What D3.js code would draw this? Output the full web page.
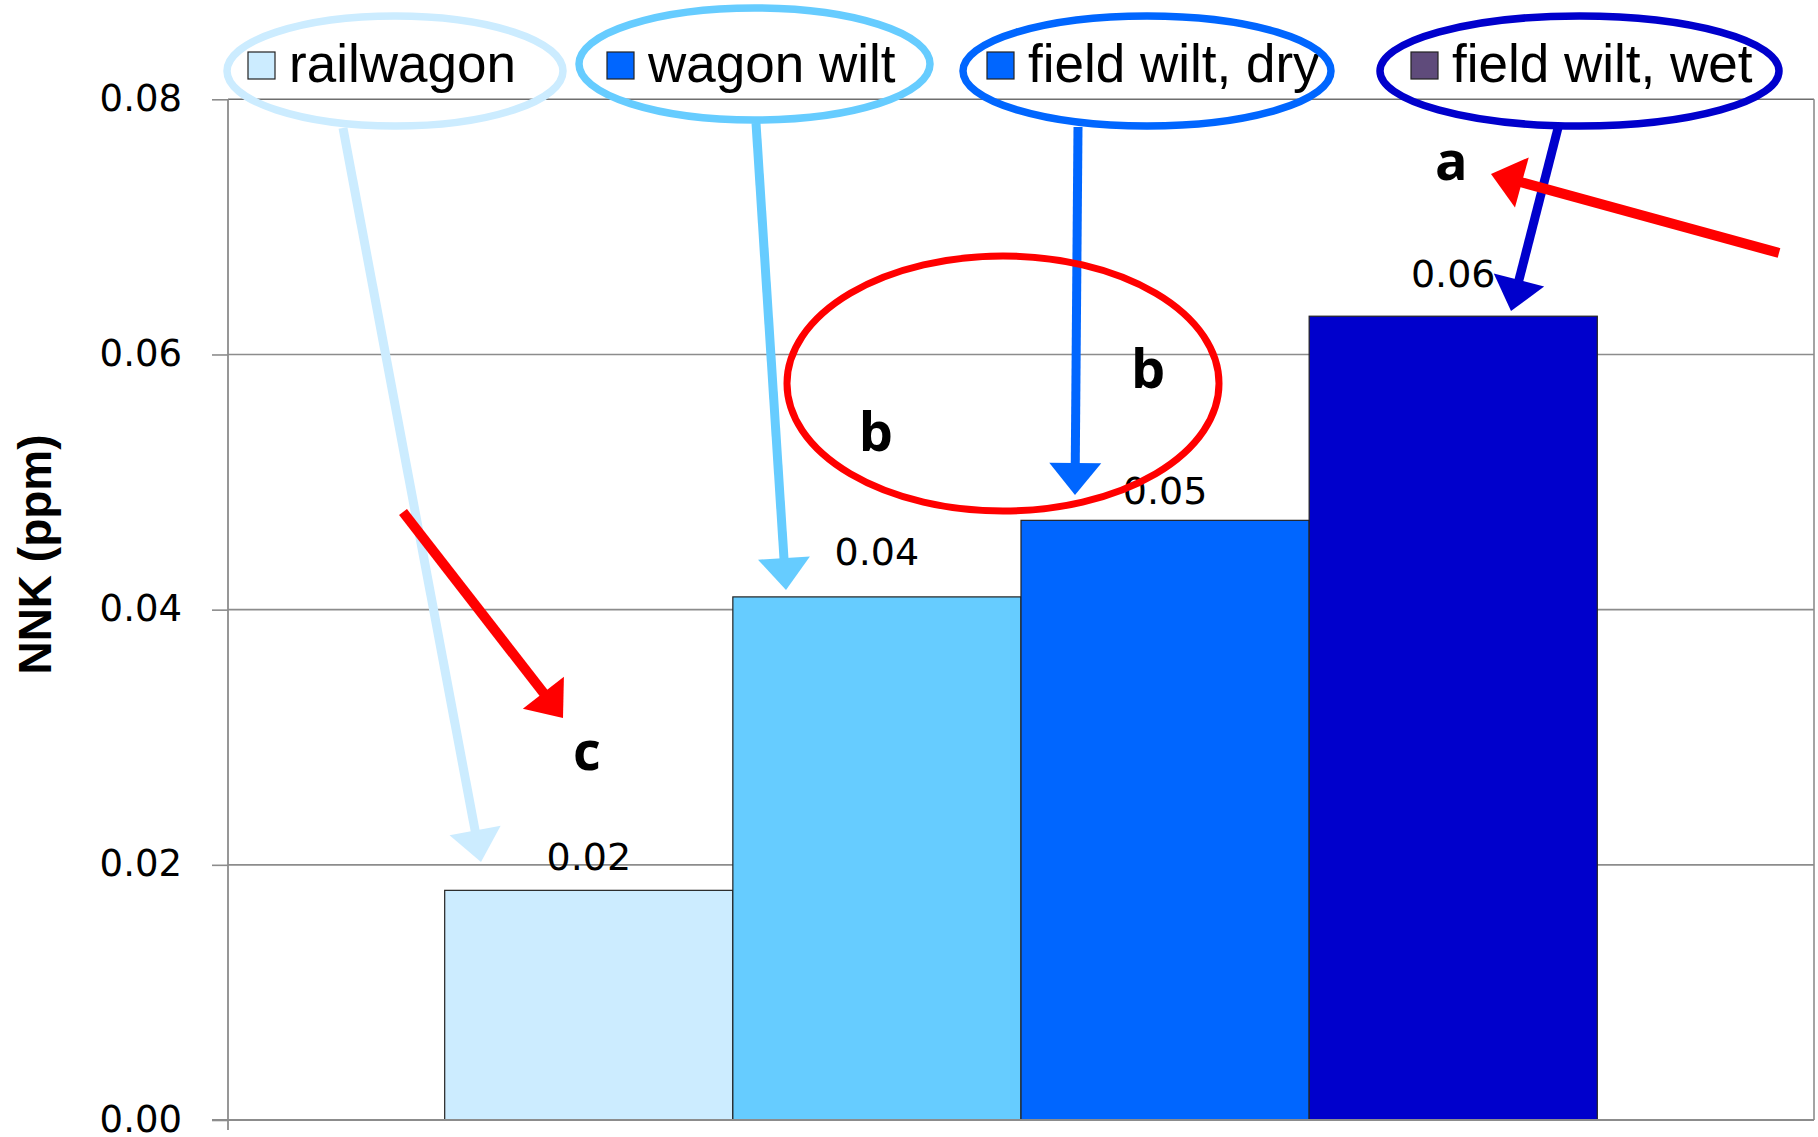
<!DOCTYPE html>
<html>
<head>
<meta charset="utf-8">
<script src="https://cdn.jsdelivr.net/npm/d3@7/dist/d3.min.js"></script>
<style>
  html, body { margin: 0; padding: 0; background: #fff; }
  svg { display: block; }
</style>
</head>
<body>
<script>
// NNK content by drying method
const categories = ["railwagon", "wagon wilt", "field wilt, dry", "field wilt, wet"];
const values = [0.018, 0.041, 0.047, 0.063];
const barColors = ["#CCECFF", "#66CCFF", "#0066FF", "#0000CC"];
const legendSwatchColors = ["#CCECFF", "#0066FF", "#0066FF", "#5F4B7B"];
const legendRingColors = ["#CCECFF", "#66CCFF", "#0066FF", "#0000CC"];
const groupLetters = ["c", "b", "b", "a"];
const yTicks = [0, 0.02, 0.04, 0.06, 0.08];
const yTitle = "NNK (ppm)";

const W = 1818, H = 1137;
const plot = { left: 228, right: 1814, top: 99.3, bottom: 1120 };

const svg = d3.select("body").append("svg")
  .attr("width", W).attr("height", H)
  .attr("viewBox", `0 0 ${W} ${H}`);

const y = d3.scaleLinear().domain([0, 0.08]).range([plot.bottom, plot.top]);
const group = d3.scaleBand().domain(["all"]).range([plot.left, plot.right])
  .paddingInner(0).paddingOuter(0.188);
const x = d3.scaleBand().domain(categories)
  .range([group("all"), group("all") + group.bandwidth()]).padding(0);
const fmt = d3.format(".2f");

// gridlines
svg.append("g").selectAll("line")
  .data(yTicks.filter(d => d > 0))
  .join("line")
  .attr("x1", plot.left).attr("x2", plot.right)
  .attr("y1", d => y(d)).attr("y2", d => y(d))
  .attr("stroke", d => d === 0.08 ? "#6e6e6e" : "#8c8c8c")
  .attr("stroke-width", 1.6);

// right frame edge
svg.append("line")
  .attr("x1", plot.right).attr("x2", plot.right)
  .attr("y1", plot.top).attr("y2", plot.bottom)
  .attr("stroke", "#8c8c8c").attr("stroke-width", 1.6);

// bars
svg.append("g").selectAll("rect")
  .data(categories)
  .join("rect")
  .attr("x", d => x(d))
  .attr("width", x.bandwidth())
  .attr("y", (d, i) => y(values[i]))
  .attr("height", (d, i) => y(0) - y(values[i]))
  .attr("fill", (d, i) => barColors[i])
  .attr("stroke", "#222")
  .attr("stroke-width", 1.2);

// y axis
const yAxis = svg.append("g")
  .attr("transform", `translate(${plot.left},0)`)
  .call(d3.axisLeft(y).tickValues(yTicks).tickFormat(fmt).tickSize(16).tickPadding(30));
yAxis.select(".domain").remove();
yAxis.selectAll(".tick line").attr("stroke", "#8c8c8c").attr("stroke-width", 1.6);
yAxis.selectAll(".tick text")
  .attr("font-family", "'DejaVu Sans', Verdana, sans-serif")
  .attr("font-size", 37)
  .attr("dy", "0.3em")
  .attr("fill", "#000");
svg.append("line")
  .attr("x1", plot.left).attr("x2", plot.left)
  .attr("y1", plot.top).attr("y2", plot.bottom + 10)
  .attr("stroke", "#8c8c8c").attr("stroke-width", 1.8);

// x axis baseline
svg.append("line")
  .attr("x1", plot.left - 16).attr("x2", plot.right)
  .attr("y1", plot.bottom).attr("y2", plot.bottom)
  .attr("stroke", "#8c8c8c").attr("stroke-width", 1.8);

// y axis title
svg.append("text")
  .attr("transform", `translate(51,${(431 + 678) / 2}) rotate(-90)`)
  .attr("text-anchor", "middle")
  .attr("font-family", "'Liberation Sans', Arial, sans-serif")
  .attr("font-weight", "bold")
  .attr("font-size", 46)
  .text(yTitle);

// value labels, each lifted a little above its bar
const labelGap = [20, 32, 16, 29];
svg.append("g").selectAll("text")
  .data(categories)
  .join("text")
  .attr("x", d => x(d) + x.bandwidth() / 2)
  .attr("y", (d, i) => y(values[i]) - labelGap[i])
  .attr("text-anchor", "middle")
  .attr("font-family", "'DejaVu Sans', Verdana, sans-serif")
  .attr("font-size", 38)
  .attr("fill", "#000")
  .text((d, i) => fmt(values[i]));

// legend
const legendSwatchX = [248, 607, 987, 1411];
const legend = svg.append("g");
categories.forEach((c, i) => {
  legend.append("rect")
    .attr("x", legendSwatchX[i]).attr("y", 52)
    .attr("width", 27).attr("height", 27)
    .attr("fill", legendSwatchColors[i])
    .attr("stroke", "#222").attr("stroke-width", 1.2);
  legend.append("text")
    .attr("x", legendSwatchX[i] + 41).attr("y", 82)
    .attr("font-family", "'Liberation Sans', Arial, sans-serif")
    .attr("font-size", 53)
    .attr("fill", "#000")
    .text(c);
});

// significance letters
const letterOffsets = [
  { dx: -2, v: 0.0274 }, { dx: -1, v: 0.0524 },
  { dx: -17, v: 0.0574 }, { dx: -2, v: 0.0737 }
];
svg.append("g").selectAll("text")
  .data(groupLetters)
  .join("text")
  .attr("x", (d, i) => x(categories[i]) + x.bandwidth() / 2 + letterOffsets[i].dx)
  .attr("y", (d, i) => y(letterOffsets[i].v))
  .attr("text-anchor", "middle")
  .attr("font-family", "'Open Sans', sans-serif")
  .attr("font-weight", "bold")
  .attr("font-size", 54)
  .attr("fill", "#000")
  .text(d => d);

// callout rings around the legend entries
const rings = [
  { cx: 395, cy: 71, rx: 168, ry: 55 },
  { cx: 754.5, cy: 64, rx: 175.5, ry: 56 },
  { cx: 1147, cy: 71, rx: 184, ry: 55 },
  { cx: 1579.5, cy: 71, rx: 199.5, ry: 55 }
];
const notes = svg.append("g");
rings.forEach((r, i) => {
  notes.append("ellipse")
    .attr("cx", r.cx).attr("cy", r.cy).attr("rx", r.rx).attr("ry", r.ry)
    .attr("fill", "none").attr("stroke", legendRingColors[i]).attr("stroke-width", 7.5);
});

// arrow helper: shaft plus triangular head
function arrow(x0, y0, x1, y1, color, width, headLen = 32, headW = 52) {
  const dx = x1 - x0, dy = y1 - y0, len = Math.hypot(dx, dy);
  const ux = dx / len, uy = dy / len;
  const bx = x1 - ux * headLen, by = y1 - uy * headLen;
  notes.append("line")
    .attr("x1", x0).attr("y1", y0).attr("x2", bx + ux * 2).attr("y2", by + uy * 2)
    .attr("stroke", color).attr("stroke-width", width);
  notes.append("path")
    .attr("d", d3.line()([
      [x1, y1],
      [bx - uy * headW / 2, by + ux * headW / 2],
      [bx + uy * headW / 2, by - ux * headW / 2]
    ]) + "Z")
    .attr("fill", color);
}

// legend entry -> bar arrows
arrow(343, 128, 481, 862, legendRingColors[0], 9);
arrow(756, 123, 786, 590, legendRingColors[1], 9);
arrow(1078, 127, 1075, 495, legendRingColors[2], 9);
arrow(1558, 128, 1511, 311, legendRingColors[3], 9);

// red highlight ring around the "b" pair
notes.append("ellipse")
  .attr("cx", 1003).attr("cy", 383.5).attr("rx", 216).attr("ry", 127.5)
  .attr("fill", "none").attr("stroke", "#FF0000").attr("stroke-width", 7);

// red pointers to "c" and "a"
arrow(403, 512, 563, 718, "#FF0000", 10);
arrow(1779, 253, 1491, 174, "#FF0000", 10);
</script>
</body>
</html>
